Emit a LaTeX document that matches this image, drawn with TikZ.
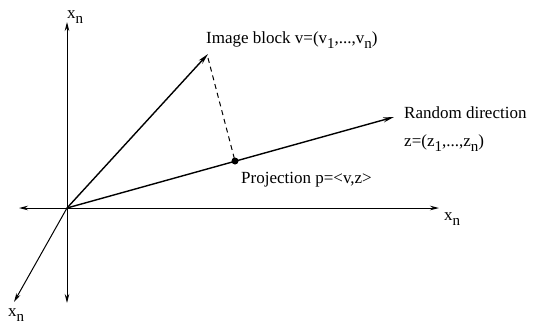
\documentclass[tikz,border=0pt]{standalone}
\usepackage{fontspec}
\setmainfont{Liberation Serif}
\usetikzlibrary{arrows.meta}
\newcommand\mysub[1]{\raisebox{-0.35em}{\fontsize{15}{15}\selectfont #1}}
\begin{document}
\begin{tikzpicture}[x=1pt,y=-1pt,
  axis/.style={line width=1pt,-{Stealth[length=9pt,width=4.5pt]}},
  vec/.style={line width=1.4pt,-{Stealth[length=11pt,width=5pt]}},
  lbl/.style={anchor=base west,inner sep=0pt,font=\fontsize{17}{20}\selectfont}]
\useasboundingbox (0,0) rectangle (536,327);
\coordinate (O) at (67,208);
\coordinate (up) at (67,22);
\coordinate (down) at (67,303);
\coordinate (left) at (19,208);
\coordinate (right) at (439,208);
\coordinate (diag) at (14,302);
\coordinate (v) at (208,54);
\coordinate (z) at (394,117);
\coordinate (vs) at (208,58);
\draw[axis] (O) -- (up);
\draw[axis] (O) -- (down);
\draw[axis] (O) -- (left);
\draw[axis] (O) -- (right);
\draw[axis] (O) -- (diag);
\draw[vec] (O) -- (v);
\draw[vec] (O) -- (z);
\node[circle,fill=black,inner sep=0pt,minimum size=7pt] (p) at (235,161) {};
\draw[dashed,line width=1pt,dash pattern=on 5pt off 4pt] (vs) -- (p.center);
\node[lbl] (ltop) at (67,18) {x\mysub{n}};
\node[lbl] (lright) at (444,220) {x\mysub{n}};
\node[lbl] (ldiag) at (8,316) {x\mysub{n}};
\node[lbl] (limg) at (206,43) {Image block v=(v\mysub{1},...,v\mysub{n})};
\node[lbl] (lrand) at (404,118) {Random direction};
\node[lbl] (lz) at (404,146) {z=(z\mysub{1},...,z\mysub{n})};
\node[lbl] (lproj) at (241,183) {Projection p=<v,z>};
\end{tikzpicture}
\end{document}
